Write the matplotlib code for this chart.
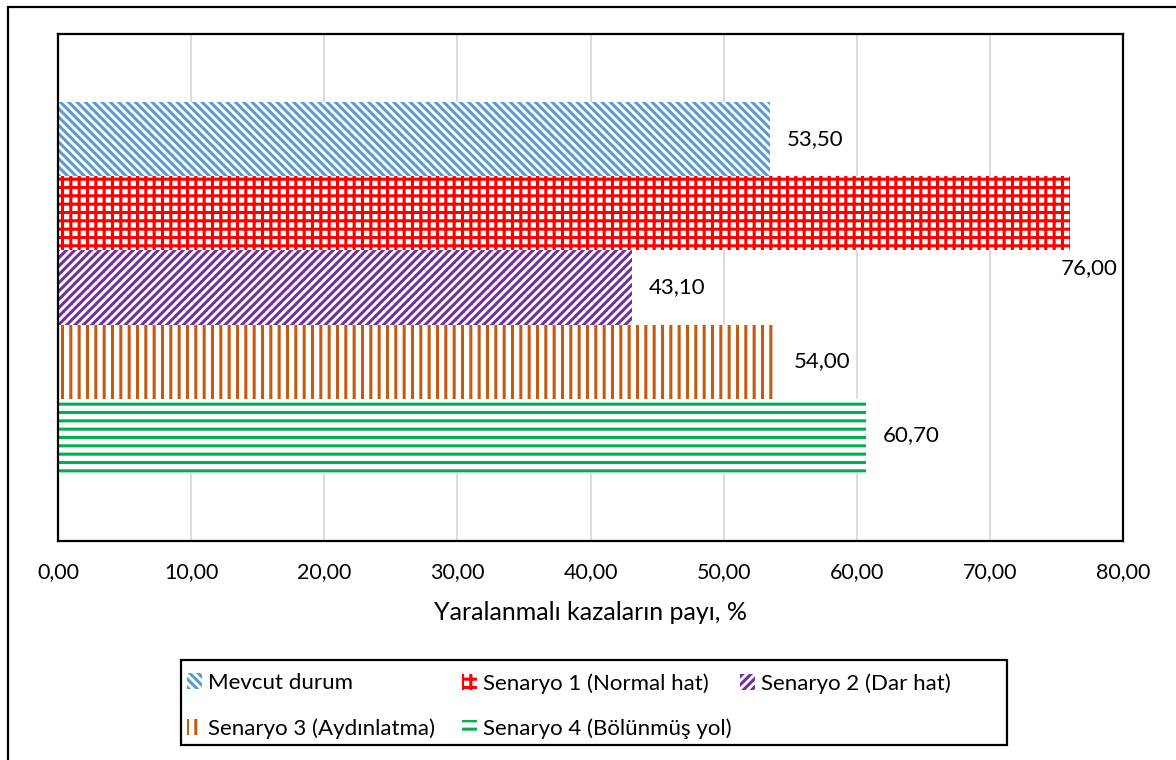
import matplotlib
matplotlib.use("Agg")
import matplotlib.pyplot as plt
from matplotlib.patches import Rectangle, Patch

categories = ["Mevcut durum", "Senaryo 1 (Normal hat)", "Senaryo 2 (Dar hat)",
              "Senaryo 3 (Aydınlatma)", "Senaryo 4 (Bölünmüş yol)"]
values = [53.50, 76.00, 43.10, 54.00, 60.70]
colors = ["#5B9BD5", "#FF0000", "#7030A0", "#C55A11", "#00B050"]
hatches = ["\\\\\\\\", "++", "////", "||", "--"]
xticks = [0, 10, 20, 30, 40, 50, 60, 70, 80]
xlabel = "Yaralanmalı kazaların payı, %"

plt.rcParams["font.family"] = ["Lato", "DejaVu Sans"]
plt.rcParams["hatch.linewidth"] = 2.2

W, H = 1176, 760
fig = plt.figure(figsize=(W / 100, H / 100), dpi=100)
ax = fig.add_axes([58 / W, 1 - 541 / H, (1123 - 58) / W, (541 - 34) / H])


def fmt(v):
    return f"{v:.2f}".replace(".", ",")


h = 0.146
for i, (cat, v, c, ht) in enumerate(zip(categories, values, colors, hatches)):
    y = (2 - i) * h
    ax.barh(y, v, height=h, facecolor="white", edgecolor=c, linewidth=0,
            hatch=ht, label=cat, zorder=2)
    if v == max(values):
        # the longest bar's label sits below its end
        ax.annotate(fmt(v), (v, y), xytext=(14, -39), textcoords="offset points",
                    ha="center", va="center", fontsize=16)
    else:
        ax.annotate(fmt(v), (v, y), xytext=(12, 0), textcoords="offset points",
                    ha="left", va="center", fontsize=16)

ax.set_xlim(0, 80)
ax.set_ylim(-0.5, 0.5)
ax.set_xticks(xticks)
ax.set_xticklabels([fmt(t) for t in xticks], fontsize=15.5)
ax.set_yticks([])
ax.tick_params(axis="x", length=0, pad=15)
ax.grid(axis="x", color="#D9D9D9", linewidth=1.3, zorder=0)
ax.set_axisbelow(True)
for s in ax.spines.values():
    s.set_linewidth(1.6)
    s.set_color("black")
ax.set_xlabel(xlabel, fontsize=18, labelpad=14)

# Excel-style legend: equal-width columns, filled row by row
columns = [[0, 3], [1, 4], [2]]
col_x = [187, 462, 740]
for idx, x0 in zip(columns, col_x):
    handles = [Patch(facecolor="white", edgecolor=colors[k], linewidth=0, hatch=hatches[k])
               for k in idx]
    fig.legend(handles, [categories[k] for k in idx], loc="upper left",
               bbox_to_anchor=(x0 / W, 1 - 673 / H), frameon=False,
               fontsize=16, handlelength=0.68, handleheight=0.72,
               handletextpad=0.25, labelspacing=1.13, borderpad=0,
               borderaxespad=0)

# legend frame and outer chart border
fig.add_artist(Rectangle((181 / W, 1 - 745 / H), (1007 - 181) / W, (745 - 660) / H,
                         transform=fig.transFigure, fill=False,
                         edgecolor="black", linewidth=1.6))
fig.add_artist(Rectangle((8 / W, -0.01), 1.0, 1 - 7 / H + 0.01,
                         transform=fig.transFigure, fill=False,
                         edgecolor="black", linewidth=1.6))

fig.savefig("out.png", dpi=100)
